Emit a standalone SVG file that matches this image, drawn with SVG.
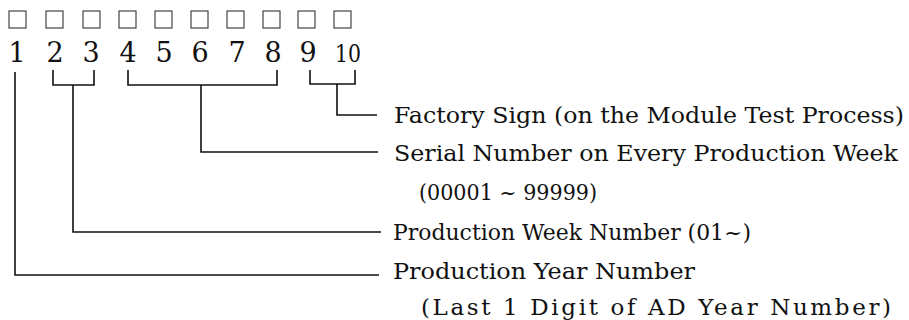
<svg xmlns="http://www.w3.org/2000/svg" width="909" height="320" viewBox="0 0 909 320">
<style>
.box{fill:none;stroke:#444;stroke-width:1.2}
.dig{font-family:"DejaVu Serif","Liberation Serif",serif;font-size:27px;fill:#111;text-anchor:middle}
.lbl{font-family:"DejaVu Serif","Liberation Serif",serif;font-size:23px;fill:#111}
.con{fill:none;stroke:#111;stroke-width:1.6}
</style>
<rect width="909" height="320" fill="#fff"/>
<g id="digits">
<g id="d1"><rect class="box" x="9" y="11" width="17" height="17"/><text class="dig" x="17" y="62">1</text></g>
<g id="d2"><rect class="box" x="46" y="11" width="17" height="17"/><text class="dig" x="55" y="62">2</text></g>
<g id="d3"><rect class="box" x="83" y="11" width="17" height="17"/><text class="dig" x="91" y="62">3</text></g>
<g id="d4"><rect class="box" x="119" y="11" width="17" height="17"/><text class="dig" x="128" y="62">4</text></g>
<g id="d5"><rect class="box" x="155" y="11" width="17" height="17"/><text class="dig" x="164" y="62">5</text></g>
<g id="d6"><rect class="box" x="191" y="11" width="17" height="17"/><text class="dig" x="200" y="62">6</text></g>
<g id="d7"><rect class="box" x="227" y="11" width="17" height="17"/><text class="dig" x="237" y="62">7</text></g>
<g id="d8"><rect class="box" x="263" y="11" width="17" height="17"/><text class="dig" x="273" y="62">8</text></g>
<g id="d9"><rect class="box" x="298" y="11" width="17" height="17"/><text class="dig" x="308" y="62">9</text></g>
<g id="d10"><rect class="box" x="334" y="11" width="17" height="17"/><text class="dig" x="348" y="62" style="font-size:25px" textLength="26" lengthAdjust="spacingAndGlyphs">10</text></g>
</g>
<g id="connectors">
<path class="con" d="M15 72 V275 H379"/>
<path class="con" d="M53 70 V85 H94 V70 M73 85 V232 H381"/>
<path class="con" d="M128 70 V85 H277 V70 M201 85 V152 H378"/>
<path class="con" d="M310 70 V84 H355 V70 M337 84 V115 H377"/>
</g>
<g id="labels">
<g id="l-factory"><text class="lbl" x="394" y="123" textLength="510" lengthAdjust="spacingAndGlyphs">Factory Sign (on the Module Test Process)</text></g>
<g id="l-serial"><text class="lbl" x="394" y="161" textLength="504" lengthAdjust="spacingAndGlyphs">Serial Number on Every Production Week</text><text class="lbl" x="419" y="200" textLength="178" lengthAdjust="spacingAndGlyphs">(00001 ~ 99999)</text></g>
<g id="l-week"><text class="lbl" x="393" y="240" textLength="358" lengthAdjust="spacingAndGlyphs">Production Week Number (01~)</text></g>
<g id="l-year"><text class="lbl" x="393" y="279" textLength="302" lengthAdjust="spacingAndGlyphs">Production Year Number</text><text class="lbl" x="421" y="315" textLength="470" lengthAdjust="spacing">(Last 1 Digit of AD Year Number)</text></g>
</g>
</svg>
